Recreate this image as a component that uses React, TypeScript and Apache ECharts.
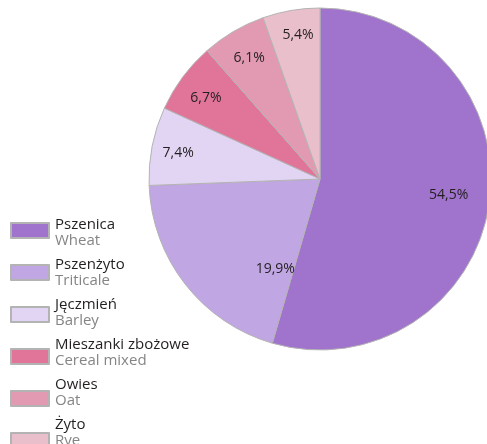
import React, { useEffect, useRef } from "react";
import * as echarts from "echarts";

const categoriesPl = ["Pszenica", "Pszenżyto", "Jęczmień", "Mieszanki zbożowe", "Owies", "Żyto"];
const categoriesEn = ["Wheat", "Triticale", "Barley", "Cereal mixed", "Oat", "Rye"];
const shares = [54.5, 19.9, 7.4, 6.7, 6.1, 5.4];
const colors = ["#a073cc", "#c0a6e3", "#e2d5f4", "#e07599", "#e29ab3", "#e8bfcb"];
// label nudges relative to the default "inside" label position
const labelShift = [
  [41, 2],
  [25, 34],
  [-55, -10],
  [-43, -30],
  [-26, -46],
  [-7, -58],
];

export default function App() {
  const ref = useRef<HTMLDivElement>(null);
  useEffect(() => {
    if (!ref.current) return;
    const chart = echarts.init(ref.current, undefined, { renderer: "svg" });
    const font = "'Open Sans', 'Noto Sans', sans-serif";
    const legendBase = {
      orient: "vertical",
      left: 10,
      padding: 0,
      height: 400,
      itemWidth: 38,
      itemHeight: 15,
      icon: "rect",
      data: categoriesPl,
      selectedMode: false,
    };
    const hidden = { opacity: 0, borderWidth: 0 };
    chart.setOption({
      animation: false,
      textStyle: { fontFamily: font },
      legend: [
        {
          ...legendBase,
          top: 222,
          itemGap: 25,
          formatter: () => "",
          textStyle: { fontSize: 10, lineHeight: 15 },
        },
        {
          ...legendBase,
          left: 12,
          top: 215,
          itemGap: 24,
          itemStyle: hidden,
          textStyle: { fontSize: 15, lineHeight: 16, color: "#231f20", fontFamily: font },
        },
        {
          ...legendBase,
          left: 12,
          top: 231,
          itemGap: 24,
          itemStyle: hidden,
          formatter: (name: string) => categoriesEn[categoriesPl.indexOf(name)],
          textStyle: { fontSize: 15, lineHeight: 16, color: "#858585", fontFamily: font },
        },
      ],
      series: [
        {
          type: "pie",
          center: [320, 179],
          radius: 171,
          startAngle: 90,
          clockwise: true,
          data: shares.map((v, i) => ({
            name: categoriesPl[i],
            value: v,
            itemStyle: { color: colors[i] },
          })),
          itemStyle: { borderColor: "#b3b3b3", borderWidth: 1 },
          label: {
            show: true,
            position: "inside",
            color: "#231f20",
            fontSize: 14,
            fontFamily: font,
            formatter: (p: any) => p.value.toFixed(1).replace(".", ",") + "%",
          },
          labelLayout: (p: any) => ({ dx: labelShift[p.dataIndex][0], dy: labelShift[p.dataIndex][1] }),
          emphasis: { disabled: true },
        },
      ],
    });
    return () => chart.dispose();
  }, []);
  return (
    <div
      ref={ref}
      style={{ position: "fixed", left: 0, top: 0, width: 487, height: 444 }}
    />
  );
}
